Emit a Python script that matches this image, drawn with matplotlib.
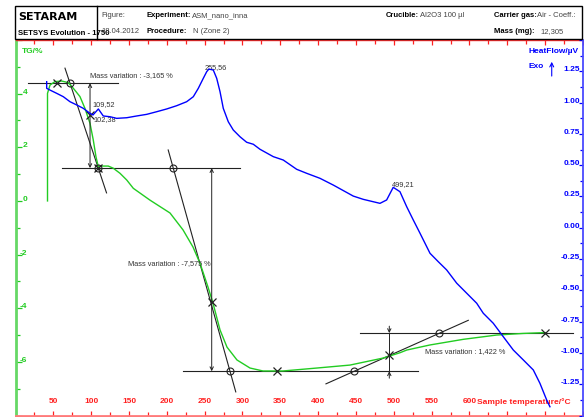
import numpy as np
import matplotlib
matplotlib.use('Agg')
import matplotlib.pyplot as plt
from matplotlib.patches import Rectangle
from matplotlib.lines import Line2D

plt.rcParams['font.family'] = ['Liberation Sans', 'DejaVu Sans']

# TG curve: sample temperature (°C) vs mass change (%)
tg_temp = [42.3, 42.3, 45.6, 52.2, 61.1, 69.8, 76.4, 85.2, 91.8, 98.5, 102.8, 106.4,
           109.4, 113.9, 122.6, 129.2, 138.1, 147.0, 155.7, 177.7, 204.2, 221.4,
           234.6, 243.8, 254.4, 261.0, 270.3, 279.5, 292.7, 309.9, 327.1, 353.5,
           398.4, 442.0, 485.6, 508.1, 517.0, 547.8, 591.8, 635.9, 671.1, 699.8]
tg_val = [0.0, 4.01, 4.32, 4.45, 4.47, 4.41, 4.20, 3.89, 3.45, 2.89, 2.27, 1.64,
          1.28, 1.30, 1.30, 1.22, 1.03, 0.78, 0.47, 0.03, -0.45, -1.08,
          -1.72, -2.32, -3.21, -3.81, -4.81, -5.45, -5.93, -6.23, -6.34, -6.34,
          -6.23, -6.12, -5.86, -5.66, -5.56, -5.37, -5.16, -5.00, -4.94, -4.91]

# heat flow curve (µV)
hf_temp = [41.2, 41.2, 45.6, 54.4, 63.2, 72.0, 80.9, 89.6, 98.5, 102.4, 109.5, 116.0,
           124.9, 133.7, 147.0, 160.2, 173.4, 186.6, 199.8, 213.0, 226.2, 235.0,
           241.6, 248.2, 252.7, 255.6, 261.4, 265.9, 270.3, 274.6, 281.2, 287.8,
           296.7, 305.5, 314.3, 323.1, 340.7, 353.9, 371.6, 384.8, 402.4, 420.0,
           446.4, 459.6, 481.7, 490.5, 499.2, 508.1, 517.0, 525.7, 534.6, 547.8,
           558.7, 569.8, 583.1, 596.3, 609.5, 618.2, 631.4, 644.6, 657.9, 671.1,
           684.3, 693.1, 702.0, 706.3]
hf_val = [1.167, 1.114, 1.100, 1.074, 1.047, 1.007, 0.981, 0.954, 0.914, 0.901, 0.949, 0.893,
          0.887, 0.874, 0.879, 0.893, 0.906, 0.927, 0.949, 0.975, 1.007, 1.047,
          1.114, 1.194, 1.247, 1.268, 1.260, 1.194, 1.087, 0.954, 0.847, 0.781,
          0.727, 0.683, 0.667, 0.627, 0.568, 0.541, 0.467, 0.435, 0.395, 0.341,
          0.253, 0.227, 0.195, 0.222, 0.323, 0.288, 0.168, 0.062, -0.044, -0.204,
          -0.271, -0.337, -0.443, -0.523, -0.603, -0.683, -0.763, -0.870, -0.977, -1.056,
          -1.136, -1.243, -1.376, -1.430]

# peak temperatures and where their labels sit (T, TG)
peak_labels = ['109,52', '102,38', '255,56', '499,21']
peak_label_pos = [(101.1, 3.58), (102.4, 3.05), (250.4, 4.99), (497.2, 0.62)]

# mass-variation construction
mass_var = ['-3,165', '-7,575', '1,422']
mass_var_pos = [(98.5, 4.66, 'left'), (258.0, -2.33, 'right'), (541.2, -5.62, 'left')]
step_levels = [4.39, 1.225, -6.35, -4.928]
hline_span = [(4.39, 16.9, 135.5), (1.225, 61.5, 296.7), (-6.35, 221.4, 531.9), (-4.928, 455.3, 736.8)]
tangents = [((65.4, 4.95), (120.3, 0.30)), ((201.8, 1.90), (291.1, -7.12)), ((410.3, -6.82), (598.4, -4.451))]
x_marks = [(54.8, 4.39), (109.4, 1.225), (98.5, 3.20), (259.3, -3.76), (345.2, -6.35), (494.0, -5.76), (699.8, -4.928)]
o_marks = [(72.0, 4.39), (109.4, 1.225), (208.5, 1.225), (283.5, -6.35), (447.3, -6.35), (560.1, -4.928)]
arrow_temp = [98.5, 259.3, 494.0]

x_ticklabels = list(range(50, 601, 50))
tg_ticklabels = [4, 2, 0, -2, -4, -6]
hf_ticklabels = [1.25, 1.0, 0.75, 0.5, 0.25, 0.0, -0.25, -0.5, -0.75, -1.0, -1.25]

W, H = 584, 417
fig = plt.figure(figsize=(W / 100, H / 100), dpi=100)
left, right, top, bottom = 15.5, 583, 40, 415.5
ax = fig.add_axes([left / W, 1 - bottom / H, (right - left) / W, (bottom - top) / H])
ax2 = ax.twinx()

green = '#22cc22'
blue = '#0000ff'
red = '#ff2020'
dark = '#222222'

ax.set_xlim(0, 750)
ax.set_ylim(-8, 6)
ax2.set_ylim(-1.5, 1.5)

ax.plot(tg_temp, tg_val, color=green, lw=1, zorder=3)
ax2.plot(hf_temp, hf_val, color=blue, lw=1)

# construction lines
for lev, t0, t1 in hline_span:
    ax.plot([t0, t1], [lev, lev], color=dark, lw=0.8)
for (t0, v0), (t1, v1) in tangents:
    ax.plot([t0, t1], [v0, v1], color=dark, lw=0.8)
ax.plot([p[0] for p in x_marks], [p[1] for p in x_marks], 'x', color=dark, ms=6, mew=0.9, ls='none', zorder=4)
ax.plot([p[0] for p in o_marks], [p[1] for p in o_marks], 'o', mfc='none', mec=dark, ms=5, mew=0.8, ls='none', zorder=4)

for i in range(2):
    ax.annotate('', xy=(arrow_temp[i], step_levels[i]), xytext=(arrow_temp[i], step_levels[i + 1]),
                arrowprops=dict(arrowstyle='<->', color=dark, lw=0.7, shrinkA=0, shrinkB=0,
                                mutation_scale=6))
t3 = arrow_temp[2]
ax.plot([t3, t3], [step_levels[2], step_levels[3]], color=dark, lw=0.7)
ax.annotate('', xy=(t3, step_levels[3]), xytext=(0, 5), textcoords='offset points',
            arrowprops=dict(arrowstyle='->', color=dark, lw=0.7, shrinkA=0, shrinkB=0, mutation_scale=6))
ax.annotate('', xy=(t3, step_levels[2]), xytext=(0, -5), textcoords='offset points',
            arrowprops=dict(arrowstyle='->', color=dark, lw=0.7, shrinkA=0, shrinkB=0, mutation_scale=6))

for txt, (t, v, ha) in zip(mass_var, mass_var_pos):
    ax.text(t, v, 'Mass variation : %s %%' % txt, fontsize=5.3, color='#333333', ha=ha, va='center')
for txt, (t, v) in zip(peak_labels, peak_label_pos):
    ax.text(t, v, txt, fontsize=5.3, color='#333333', ha='left', va='center')

# axes styling
ax.set_xticks(range(0, 751, 50))
ax.set_xticks(range(25, 751, 50), minor=True)
ax.set_yticks(range(-8, 7, 2))
ax.set_yticks(range(-7, 6, 2), minor=True)
ax.tick_params(axis='x', which='both', bottom=True, top=True, direction='in',
               labelbottom=False, color=red, width=0.9)
ax.tick_params(axis='x', which='major', length=3.8)
ax.tick_params(axis='x', which='minor', length=2.6)
ax.tick_params(axis='y', which='both', left=True, right=False, direction='in',
               labelleft=False, color=green, width=0.9)
ax.tick_params(axis='y', which='major', length=4.3)
ax.tick_params(axis='y', which='minor', length=3.0)

ax2.set_yticks(np.arange(-1.5, 1.51, 0.25))
ax2.set_yticks(np.arange(-1.375, 1.4, 0.25), minor=True)
ax2.tick_params(axis='y', which='both', direction='in', labelright=False, color=blue, width=0.9)
ax2.tick_params(axis='y', which='major', length=3.0)
ax2.tick_params(axis='y', which='minor', length=2.0)

ax.spines['left'].set_color('#66d866')
ax.spines['left'].set_linewidth(2)
ax.spines['bottom'].set_color('#ff7a7a')
ax.spines['bottom'].set_linewidth(2)
ax.spines['top'].set_color('#ff3030')
ax.spines['top'].set_linewidth(1)
ax.spines['right'].set_visible(False)
for s in ['left', 'top', 'bottom']:
    ax2.spines[s].set_visible(False)
ax2.spines['right'].set_color('#4a4aff')
ax2.spines['right'].set_linewidth(1.3)

lab = dict(fontsize=6, fontweight='bold')
for t in x_ticklabels:
    ax.text(t, 0.036, str(t), transform=ax.get_xaxis_transform(), ha='center', va='center', color=red, **lab)
ax.text(0.8127, 0.036, 'Sample temperature/°C', transform=ax.transAxes, ha='left', va='center', color=red, **lab)
for v in tg_ticklabels:
    ax.text(0.0211, v, str(v), transform=ax.get_yaxis_transform(), ha='right', va='baseline', color=green, **lab)
ax.text(0.0109, 0.969, 'TG/%', transform=ax.transAxes, ha='left', va='center', color=green, **lab)
for v in hf_ticklabels:
    ax2.text(0.9947, v, '%.2f' % v, transform=ax2.get_yaxis_transform(), ha='right', va='baseline', color=blue, **lab)
ax2.text(0.9917, 0.9707, 'HeatFlow/µV', transform=ax2.transAxes, ha='right', va='center', color=blue, **lab)
ax2.text(0.930, 0.929, 'Exo', transform=ax2.transAxes, ha='right', va='center', color=blue, **lab)
ax2.annotate('', xy=(0.9449, 0.942), xytext=(0.9449, 0.904), xycoords='axes fraction',
             arrowprops=dict(arrowstyle='->', color=blue, lw=0.8, shrinkA=0, shrinkB=0, mutation_scale=7))

# header block
fig.add_artist(Rectangle((15 / W, 1 - 39.3 / H), 567 / W, 33.3 / H, transform=fig.transFigure,
                         fill=False, lw=1, ec='black'))
fig.add_artist(Line2D([97.3 / W, 97.3 / W], [1 - 6 / H, 1 - 39.3 / H], transform=fig.transFigure,
                      lw=1, color='black'))


def htext(x, y, s, **kw):
    fig.text(x / W, 1 - y / H, s, va='center', ha='left', **kw)


htext(18.3, 16.7, 'SETARAM', fontsize=8, fontweight='heavy', family=['DejaVu Sans'])
htext(18.3, 33.5, 'SETSYS Evolution - 1750', fontsize=5.6, fontweight='bold')
htext(101, 15.5, 'Figure:', fontsize=5.5, color='#444444')
htext(101, 31.7, '18.04.2012', fontsize=5.5, color='#444444')
htext(146.7, 15.5, 'Experiment:', fontsize=5.5, fontweight='bold')
htext(191.7, 15.5, 'ASM_nano_inna', fontsize=5.5, color='#444444')
htext(146.7, 31.7, 'Procedure:', fontsize=5.5, fontweight='bold')
htext(192.7, 31.7, 'N (Zone 2)', fontsize=5.5, color='#444444')
htext(385.5, 15.5, 'Crucible:', fontsize=5.5, fontweight='bold')
htext(420, 15.5, 'Al2O3 100 µl', fontsize=5.5, color='#444444')
htext(493.5, 15.5, 'Carrier gas:', fontsize=5.5, fontweight='bold')
htext(537, 15.5, 'Air - Coeff.:', fontsize=5.5, color='#444444')
htext(493.5, 31.7, 'Mass (mg):', fontsize=5.5, fontweight='bold')
htext(540.8, 31.7, '12,305', fontsize=5.5, color='#444444')

fig.savefig('out.png', dpi=100)
